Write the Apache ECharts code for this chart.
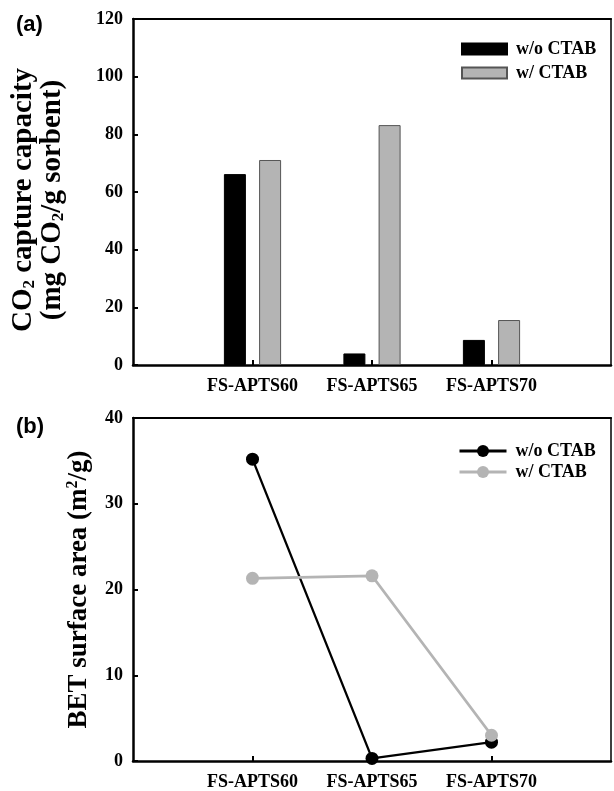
<!DOCTYPE html>
<html>
<head>
<meta charset="utf-8">
<script src="https://cdn.jsdelivr.net/npm/echarts@6/dist/echarts.min.js"></script>
<style>
html,body{margin:0;padding:0;background:#fff;}
#chart{width:614px;height:791px;}
</style>
</head>
<body>
<div id="chart"></div>
<script>
// ---- data ----
const categories = ['FS-APTS60', 'FS-APTS65', 'FS-APTS70'];
const seriesNames = ['w/o CTAB', 'w/ CTAB'];
const co2WithoutCTAB = [66.2, 4.0, 8.7];
const co2WithCTAB = [71.1, 83.2, 15.6];
const betWithoutCTAB = [35.2, 0.3, 2.2];
const betWithCTAB = [21.3, 21.6, 3.0];
const co2Ticks = [0, 20, 40, 60, 80, 100, 120];
const betTicks = [0, 10, 20, 30, 40];

// ---- helpers ----
const SERIF = "'Liberation Serif', 'Times New Roman', serif";
const axisCats = [''].concat(categories, ['']);
const pad = arr => [null].concat(arr, [null]);
const BLACK = '#000000';
const GRAY = '#b4b4b4';

const chart = echarts.init(document.getElementById('chart'), null, {renderer: 'canvas'});

function bottomX(gridIndex) {
  return {
    type: 'category', gridIndex: gridIndex, data: axisCats, boundaryGap: false,
    axisLine: {show: true, onZero: false, lineStyle: {color: BLACK, width: 2.5}},
    axisTick: {show: true, inside: true, length: 5, lineStyle: {color: BLACK, width: 2},
               interval: function (i, v) { return v !== ''; }},
    axisLabel: {show: true, color: BLACK, fontFamily: SERIF, fontWeight: 'bold', fontSize: 18, margin: 12,
                interval: 0},
    splitLine: {show: false}
  };
}
function topX(gridIndex) {
  return {
    type: 'category', gridIndex: gridIndex, data: axisCats, boundaryGap: false, position: 'top',
    axisLine: {show: true, onZero: false, lineStyle: {color: BLACK, width: 2.2}},
    axisTick: {show: false}, axisLabel: {show: false}, splitLine: {show: false}
  };
}
function leftY(gridIndex, ticks, nameObj) {
  const min = ticks[0], max = ticks[ticks.length - 1];
  return Object.assign({
    type: 'value', gridIndex: gridIndex, min: min, max: max, interval: ticks[1] - ticks[0],
    axisLine: {show: true, onZero: false, lineStyle: {color: BLACK, width: 2.5}},
    axisTick: {show: true, inside: true, length: 5, lineStyle: {color: BLACK, width: 2}},
    axisLabel: {color: BLACK, fontFamily: SERIF, fontWeight: 'bold', fontSize: 18, margin: 10},
    splitLine: {show: false}
  }, nameObj);
}
function rightY(gridIndex, ticks) {
  return {
    type: 'value', gridIndex: gridIndex, position: 'right', min: ticks[0], max: ticks[ticks.length - 1],
    interval: ticks[1] - ticks[0],
    axisLine: {show: true, onZero: false, lineStyle: {color: BLACK, width: 1.5}},
    axisTick: {show: false}, axisLabel: {show: false}, splitLine: {show: false}
  };
}

function makeRich(size, lh) {
  return {
    t: {fontFamily: SERIF, fontWeight: 'bold', fontSize: size, color: BLACK, lineHeight: lh},
    s: {fontFamily: SERIF, fontWeight: 'bold', fontSize: Math.round(size * 0.6), color: BLACK, lineHeight: 10, verticalAlign: 'bottom'},
    p: {fontFamily: SERIF, fontWeight: 'bold', fontSize: Math.round(size * 0.6), color: BLACK, lineHeight: 14, verticalAlign: 'top'}
  };
}

const option = {
  animation: false,
  backgroundColor: '#ffffff',
  title: [
    {text: '(a)', left: 11, top: 9, textStyle: {fontFamily: 'Liberation Sans, Arial, sans-serif', fontWeight: 'bold', fontSize: 22, color: BLACK}},
    {text: '(b)', left: 11, top: 411, textStyle: {fontFamily: 'Liberation Sans, Arial, sans-serif', fontWeight: 'bold', fontSize: 22, color: BLACK}}
  ],
  grid: [
    {left: 133, top: 19, width: 479, height: 346},
    {left: 133, top: 418, width: 479, height: 345}
  ],
  legend: [
    {
      data: seriesNames.map(n => ({name: n, icon: 'rect'})),
      orient: 'vertical', left: 456, top: 35, itemWidth: 45, itemHeight: 11, itemGap: 6,
      selectedMode: false,
      textStyle: {fontFamily: SERIF, fontWeight: 'bold', fontSize: 18, color: BLACK, padding: [0, 0, 0, 4]}
    },
    {
      data: seriesNames.map(n => 'BET ' + n),
      formatter: function (n) { return n.replace('BET ', ''); },
      orient: 'vertical', left: 453, top: 437, itemWidth: 47, itemHeight: 15, itemGap: 3,
      selectedMode: false,
      lineStyle: {width: 3},
      textStyle: {fontFamily: SERIF, fontWeight: 'bold', fontSize: 18, color: BLACK, padding: [0, 0, 0, 4]}
    }
  ],
  xAxis: [bottomX(0), topX(0), bottomX(1), topX(1)],
  yAxis: [
    leftY(0, co2Ticks, {
      name: '{t|CO}{s|2}{t| capture capacity}\n{t|(mg CO}{s|2}{t|/g sorbent)}',
      nameLocation: 'middle', nameGap: 66, nameRotate: 90,
      nameTextStyle: {rich: makeRich(29, 29), fontFamily: SERIF, fontWeight: 'bold', fontSize: 29, lineHeight: 29, color: BLACK,
                      padding: [0, 16, 0, 0]}
    }),
    rightY(0, co2Ticks),
    leftY(1, betTicks, {
      name: '{t|BET surface area (m}{p|2}{t|/g)}',
      nameLocation: 'middle', nameGap: 40, nameRotate: 90,
      nameTextStyle: {rich: makeRich(27, 28), fontFamily: SERIF, fontWeight: 'bold', fontSize: 27, lineHeight: 28, color: BLACK}
    }),
    rightY(1, betTicks)
  ],
  series: [
    {
      name: seriesNames[0], type: 'bar', xAxisIndex: 0, yAxisIndex: 0, data: pad(co2WithoutCTAB),
      barWidth: 22, barGap: '60%',
      itemStyle: {color: BLACK, borderColor: BLACK, borderWidth: 1}
    },
    {
      name: seriesNames[1], type: 'bar', xAxisIndex: 0, yAxisIndex: 0, data: pad(co2WithCTAB),
      barWidth: 22, barGap: '60%',
      itemStyle: {color: GRAY, borderColor: '#555555', borderWidth: 1}
    },
    {
      name: 'BET ' + seriesNames[0], type: 'line', xAxisIndex: 2, yAxisIndex: 2, data: pad(betWithoutCTAB),
      symbol: 'circle', symbolSize: 13, clip: false, connectNulls: false,
      lineStyle: {color: BLACK, width: 2.3}, itemStyle: {color: BLACK}
    },
    {
      name: 'BET ' + seriesNames[1], type: 'line', xAxisIndex: 2, yAxisIndex: 2, data: pad(betWithCTAB),
      symbol: 'circle', symbolSize: 13, clip: false, connectNulls: false,
      lineStyle: {color: GRAY, width: 2.8}, itemStyle: {color: GRAY}
    }
  ]
};
chart.setOption(option);
</script>
</body>
</html>
